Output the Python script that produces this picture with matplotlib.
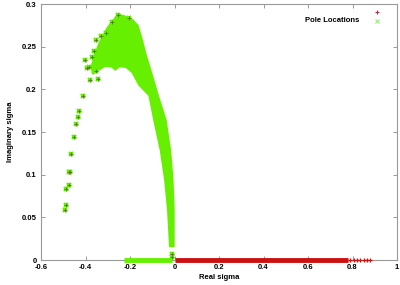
import numpy as np
import matplotlib
matplotlib.use("Agg")
from matplotlib import pyplot as plt

# outline of the dense cloud of poles
cloud_x = [-0.279, -0.253, -0.226, -0.190, -0.165, -0.148, -0.128, -0.101, -0.072,
           -0.039, -0.019, -0.008, -0.003, -0.003,
           -0.021, -0.030, -0.043, -0.063, -0.092, -0.114, -0.159, -0.190, -0.217,
           -0.248, -0.266, -0.284, -0.315, -0.368, -0.373, -0.359, -0.337, -0.302]
cloud_y = [0.280, 0.288, 0.286, 0.282, 0.275, 0.260, 0.240, 0.217, 0.191,
           0.164, 0.129, 0.094, 0.059, 0.016,
           0.016, 0.059, 0.094, 0.129, 0.164, 0.193, 0.205, 0.220, 0.226,
           0.227, 0.223, 0.227, 0.227, 0.218, 0.227, 0.240, 0.255, 0.272]

# isolated poles left of the cloud
iso_x = [-0.253, -0.204, -0.279, -0.307, -0.352, -0.403, -0.385, -0.382, -0.412,
         -0.429, -0.434, -0.441, -0.453, -0.466, -0.474, -0.471, -0.475, -0.486,
         -0.486, -0.492, -0.330, -0.360, -0.395, -0.370, -0.345, -0.355,
         -0.012, -0.012]
iso_y = [0.2875, 0.284, 0.279, 0.266, 0.258, 0.235, 0.226, 0.211, 0.192,
         0.175, 0.168, 0.160, 0.144, 0.124, 0.1035, 0.103, 0.088, 0.083,
         0.0645, 0.059, 0.262, 0.245, 0.225, 0.238, 0.212, 0.222,
         0.007, 0.003]

# poles on the real axis
green_real = [-0.226, -0.012]
red_real = [0.0, 0.78]
red_sparse = [0.79, 0.805, 0.82, 0.835, 0.85, 0.865, 0.879]

xticks = [-0.6, -0.4, -0.2, 0, 0.2, 0.4, 0.6, 0.8, 1]
xlabels = ["-0.6", "-0.4", "-0.2", "0", "0.2", "0.4", "0.6", "0.8", "1"]
yticks = [0, 0.05, 0.1, 0.15, 0.2, 0.25, 0.3]
ylabels = ["0", "0.05", "0.1", "0.15", "0.2", "0.25", "0.3"]

green = "#66f000"
red = "#cc1111"

plt.rcParams['font.family'] = ['Liberation Sans', 'DejaVu Sans']
fig = plt.figure(figsize=(4, 2.85), dpi=100)
ax = fig.add_axes([0.1025, 0.0877, 0.89, 0.898])

# red poles on the positive real axis
ax.plot(red_real, [0, 0], color=red, lw=3.5, solid_capstyle='butt', clip_on=False, zorder=3)
ax.plot(red_sparse, np.zeros(len(red_sparse)), '+', color=red, ms=3.5, mew=0.9, clip_on=False, zorder=3)

# the dense green cloud
ax.fill(cloud_x, cloud_y, color=green, lw=1.2, ec=green, zorder=2)
ax.plot(green_real, [0, 0], color=green, lw=3.5, solid_capstyle='butt', clip_on=False, zorder=3)

# isolated poles, both markers on top of each other
ax.plot(iso_x, iso_y, 'x', color=green, ms=3.5, mew=1.6, zorder=4)
ax.plot(iso_x, iso_y, '+', color="#557711", ms=2.5, mew=0.6, zorder=5)

ax.set_xlim(-0.6, 1)
ax.set_ylim(0, 0.3)
ax.set_xticks(xticks)
ax.set_xticklabels(xlabels)
ax.set_yticks(yticks)
ax.set_yticklabels(ylabels)
ax.tick_params(direction='in', length=3, width=0.6, color='#888888', labelsize=5.5,
               top=True, right=True, pad=3)
for lab in ax.get_xticklabels() + ax.get_yticklabels():
    lab.set_fontweight('bold')
for s in ax.spines.values():
    s.set_color('#999999')
    s.set_linewidth(0.8)

ax.set_xlabel("Real sigma", fontsize=5.5, fontweight='bold', labelpad=2)
ax.set_ylabel("Imaginary sigma", fontsize=5.5, fontweight='bold', labelpad=6)

# key, gnuplot style
ax.plot([0.945], [0.97], '+', color="#aa3355", ms=3.5, mew=0.8, transform=ax.transAxes, clip_on=False)
ax.plot([0.945], [0.935], 'x', color="#99ee77", ms=3, mew=0.8, transform=ax.transAxes, clip_on=False)
ax.text(0.895, 0.935, "Pole Locations", transform=ax.transAxes, ha='right', va='center',
        fontsize=5.5, fontweight='bold')

fig.savefig("out.png", dpi=100)
